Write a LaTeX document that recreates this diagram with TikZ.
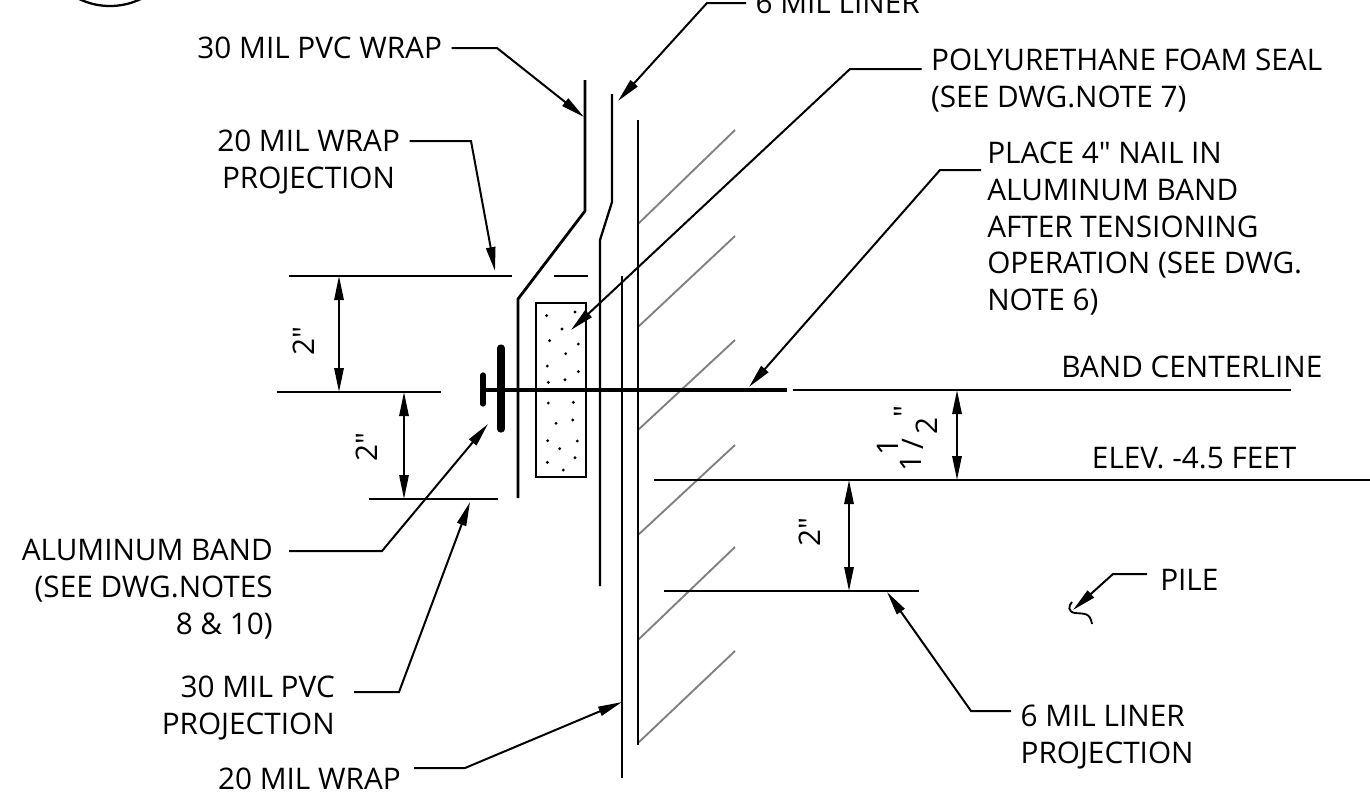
\documentclass[tikz,border=0pt]{standalone}
\usepackage{fontspec}
\setmainfont{Open Sans}[Ligatures=TeXOff]
\usetikzlibrary{arrows.meta}
\tikzset{
  lbl/.style={font=\fontsize{22.3pt}{27.7pt}\selectfont,inner sep=7pt,text=black},
  dimtxt/.style={font=\fontsize{22.3pt}{24pt}\selectfont,inner sep=0pt,rotate=90,text=black},
  ink/.style={line width=1.7pt,line cap=butt,line join=miter},
  lead/.style={line width=1.5pt,line join=miter,-{Stealth[length=18pt,width=7pt,inset=0pt]}},
  dimline/.style={line width=1.5pt,{Stealth[length=18pt,width=7pt,inset=0pt]}-{Stealth[length=18pt,width=7pt,inset=0pt]}},
  ext/.style={line width=1.5pt},
  hatchline/.style={line width=1.4pt,draw=black!50},
}
\begin{document}
\begin{tikzpicture}[x=0.75pt,y=-0.75pt]
\useasboundingbox (0,0) rectangle (1370,804);
\clip (0,0) rectangle (1370,804);
\fill[white] (0,0) rectangle (1370,804);

% detail bubble
\draw[ink] (110,-65) circle [radius=53.25pt];

% hatching of the pile
\foreach \ya/\yb in {224/130,327/236,430/340,535/445,640/547,743/651}
  \draw[hatchline] (638,\ya) -- (735,\yb);

% body lines
\coordinate (pvcA) at (585,80);
\coordinate (pvcB) at (585,211);
\coordinate (pvcC) at (518,299);
\coordinate (pvcD) at (518,498);
\draw[line width=2.1pt,line join=miter] (pvcA) -- (pvcB) -- (pvcC) -- (pvcD);
\coordinate (linA) at (612,94);
\coordinate (linB) at (612,202);
\coordinate (linC) at (600,240);
\coordinate (linD) at (600,586);
\draw[ink] (linA) -- (linB) -- (linC) -- (linD);
\coordinate (pileA) at (638,120);
\coordinate (pileB) at (638,745);
\draw[ink] (pileA) -- (pileB);
\coordinate (wrapA) at (622,276);
\coordinate (wrapB) at (622,778);
\draw[line width=2.2pt] (wrapA) -- (wrapB);

% foam seal
\node[draw=black,line width=1.5pt,fill=white,minimum width=37.5pt,minimum height=130.5pt,inner sep=0pt,outer sep=0pt] (foam) at (561,390) {};
\foreach \a/\b in {260/197,345/186,306/237,269/272,355/282,317/311,262/348,355/365,265/397,315/389,265/459,340/457,338/510,288/520,263/572,352/573,299/596,345/623,262/637,310/660}
  \fill ({460+\a/3},{250+\b/3}) circle [radius=1.2pt];

% nail and band
\coordinate (nailA) at (483,389.5);
\coordinate (nailB) at (787,389.5);
\draw[line width=3pt] (nailA) -- (nailB);
\coordinate (headA) at (483,375);
\coordinate (headB) at (483,404);
\draw[line width=4pt,line cap=round] (headA) -- (headB);
\coordinate (bandA) at (501,348);
\coordinate (bandB) at (501,429);
\draw[line width=5.4pt,line cap=round] (bandA) -- (bandB);

% extension lines
\coordinate (e1a) at (289,276); \coordinate (e1b) at (512,276);
\coordinate (e2a) at (554,276); \coordinate (e2b) at (588,276);
\coordinate (e3a) at (277,392); \coordinate (e3b) at (441,392);
\coordinate (e4a) at (369,499); \coordinate (e4b) at (498,499);
\coordinate (e5a) at (793,390); \coordinate (e5b) at (1291,390);
\coordinate (e6a) at (654,480); \coordinate (e6b) at (1370,480);
\coordinate (e7a) at (664,591); \coordinate (e7b) at (919,591);
\draw[ext] (e1a) -- (e1b);
\draw[ext] (e2a) -- (e2b);
\draw[ext] (e3a) -- (e3b);
\draw[ext] (e4a) -- (e4b);
\draw[ext] (e5a) -- (e5b);
\draw[ext] (e6a) -- (e6b);
\draw[ext] (e7a) -- (e7b);

% dimensions
\coordinate (d1a) at (339,276); \coordinate (d1b) at (339,392);
\coordinate (d2a) at (404,392); \coordinate (d2b) at (404,499);
\coordinate (d3a) at (957,390); \coordinate (d3b) at (957,480);
\coordinate (d4a) at (849,480); \coordinate (d4b) at (849,591);
\draw[dimline] (d1a) -- (d1b);
\draw[dimline] (d2a) -- (d2b);
\draw[dimline] (d3a) -- (d3b);
\draw[dimline] (d4a) -- (d4b);
\node[dimtxt] (dt1) at (304,341) {2"};
\node[dimtxt] (dt2) at (367,447) {2"};
\node[dimtxt] (dt4) at (810,532) {2"};
\node[dimtxt] (dt3a) at (888,447) {1};
\node[dimtxt] (dt3b) at (911,463) {1};
\node[dimtxt] (dt3c) at (913,444) {/};
\node[dimtxt] (dt3d) at (927,426) {2};
\node[dimtxt] (dt3e) at (905,412) {"};

% labels
\node[lbl,anchor=east] (tpvc) at (451.5,48) {30 MIL PVC WRAP};
\node[lbl,anchor=west] (tliner) at (746,3) {6 MIL LINER};
\node[lbl,anchor=north west,align=left] (tfoam) at (921.5,39) {POLYURETHANE FOAM SEAL\\(SEE DWG.NOTE 7)};
\node[lbl,anchor=north east,align=center] (twp) at (409.5,120) {20 MIL WRAP\\PROJECTION};
\node[lbl,anchor=north west,align=left,inner xsep=4.5pt] (tnail) at (981,132) {PLACE 4" NAIL IN\\ALUMINUM BAND\\AFTER TENSIONING\\OPERATION (SEE DWG.\\NOTE 6)};
\node[lbl,anchor=south east] (tcl) at (1332,387) {BAND CENTERLINE};
\node[lbl,anchor=south east] (tel) at (1306,479) {ELEV. -4.5 FEET};
\node[lbl,anchor=west,inner xsep=9.75pt] (tpile) at (1147,580) {PILE};
\node[lbl,anchor=north east,align=right,inner xsep=12pt] (tal) at (289,530) {ALUMINUM BAND\\(SEE DWG.NOTES\\8 \& 10)};
\node[lbl,anchor=north east,align=right,inner xsep=14.25pt] (tpp) at (354,666) {30 MIL PVC\\PROJECTION};
\node[lbl,anchor=north west,align=left] (tlp) at (1011,695) {6 MIL LINER\\PROJECTION};
\node[lbl,anchor=east,inner xsep=9.75pt] (tw) at (414,779) {20 MIL WRAP};

% leaders
\coordinate (k1) at (497,48);    \coordinate (a1) at (584,117);
\coordinate (k2) at (707,3);     \coordinate (a2) at (618,101);
\coordinate (k3) at (850,69);    \coordinate (a3) at (571,330);
\coordinate (k4) at (471,141);   \coordinate (a4) at (495,271);
\coordinate (k5) at (940,170);   \coordinate (a5) at (749,387);
\coordinate (k6) at (382,551);   \coordinate (a6) at (488,424);
\coordinate (k7) at (399,692);   \coordinate (a7) at (470,502);
\coordinate (k8) at (971,711);   \coordinate (a8) at (887,592);
\coordinate (k9) at (465,768);   \coordinate (a9) at (622,702);
\coordinate (k10) at (1113,574); \coordinate (a10) at (1073,610);
\draw[lead] (tpvc.east |- k1) -- (k1) -- (a1);
\draw[lead] (tliner.west |- k2) -- (k2) -- (a2);
\draw[lead] (tfoam.west |- k3) -- (k3) -- (a3);
\draw[lead] (twp.east |- k4) -- (k4) -- (a4);
\draw[lead] (tnail.west |- k5) -- (k5) -- (a5);
\draw[lead] (tal.east |- k6) -- (k6) -- (a6);
\draw[lead] (tpp.east |- k7) -- (k7) -- (a7);
\draw[lead] (tlp.west |- k8) -- (k8) -- (a8);
\draw[lead] (tw.east |- k9) -- (k9) -- (a9);
\draw[lead] (tpile.west |- k10) -- (k10) -- (a10);

% pile break mark
\draw[line width=1.4pt] (1072,602) .. controls (1068,606) and (1068,612) .. (1075,613) .. controls (1084,614) and (1090,612) .. (1092,624);
\end{tikzpicture}
\end{document}
